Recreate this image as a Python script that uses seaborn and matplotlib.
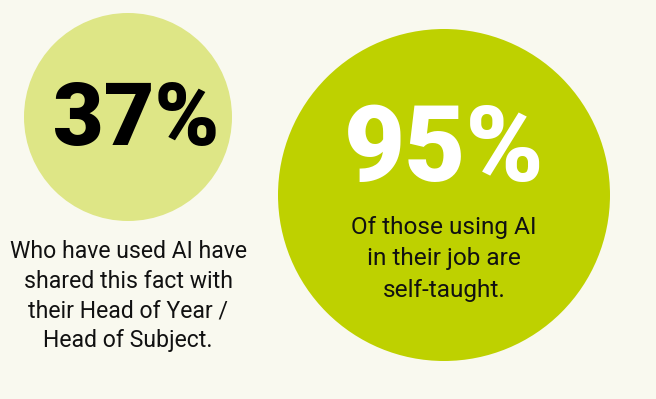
import matplotlib
matplotlib.use("Agg")
import matplotlib.pyplot as plt
import pandas as pd
import seaborn as sns

# Survey figures shown as two bubbles (bubble area grows with the share)
shares = [37, 95]
captions = [
    "Who have used AI have\nshared this fact with\ntheir Head of Year /\nHead of Subject.",
    "Of those using AI\nin their job are\nself-taught.",
]
bubble_colors = ["#dee686", "#bed100"]
number_colors = ["#000000", "#ffffff"]

# layout (pixel space of the canvas)
centers_x = [128, 444]
centers_y = [117, 195]
number_y = [122, 153]
caption_y = [296, 259]

sns.set_theme(style="white")
plt.rcParams["font.family"] = ["Roboto", "DejaVu Sans"]

BG = "#f9f9ef"
DPI = 100
W, H = 656, 399

fig = plt.figure(figsize=(W / DPI, H / DPI), dpi=DPI, facecolor=BG)
ax = fig.add_axes([0, 0, 1, 1])
ax.set_facecolor(BG)

df = pd.DataFrame({"x": centers_x, "y": centers_y, "share": shares,
                   "label": [f"{v}%" for v in shares]})

# marker area in pt^2 for bubble radii of 104 px and 166 px
def area(radius_px):
    d_pt = 2 * radius_px * 72 / DPI
    return d_pt ** 2

sns.scatterplot(data=df, x="x", y="y", size="share", hue="label",
                sizes=(area(104), area(166)), palette=bubble_colors,
                linewidth=0, legend=False, ax=ax, zorder=1)

ax.set_xlim(0, W)
ax.set_ylim(H, 0)
ax.axis("off")

number_sizes = [63, 76]
caption_sizes = [16.6, 17.6]
caption_spacing = [1.38, 1.47]
for i, row in df.iterrows():
    ax.text(row["x"] + (8 if i == 0 else 0), number_y[i], row["label"],
            ha="center", va="center", fontsize=number_sizes[i],
            fontweight="black", color=number_colors[i], zorder=3)
    ax.text(row["x"], caption_y[i], captions[i], ha="center", va="center",
            fontsize=caption_sizes[i], color="#111111",
            linespacing=caption_spacing[i], zorder=3)

fig.savefig("out.png", dpi=DPI, facecolor=BG)
